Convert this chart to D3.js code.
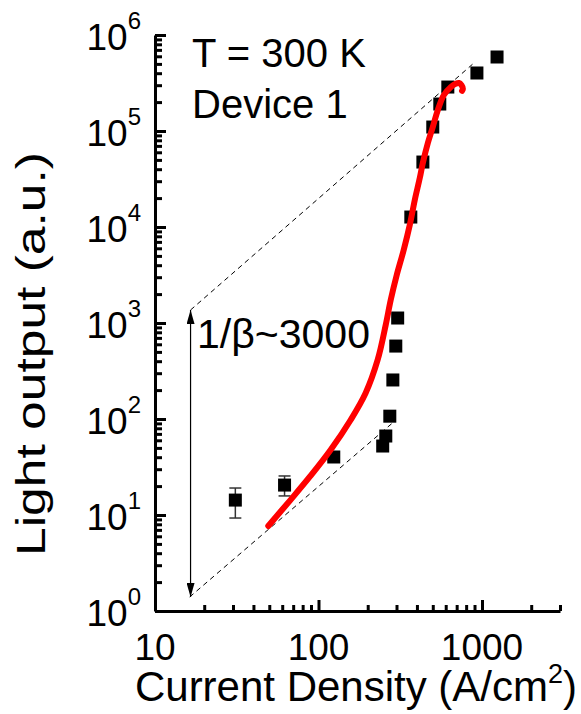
<!DOCTYPE html>
<html>
<head>
<meta charset="utf-8">
<script src="https://cdn.jsdelivr.net/npm/d3@7"></script>
<style>
  body { margin: 0; background: #fff; }
  text { font-family: "Liberation Sans", Arial, sans-serif; fill: #000; }
</style>
</head>
<body>
<div class="chart"></div>
<script>
// measured points (current density, light output)
let pointX = [31, 62, 124, 247, 258, 273, 285, 297, 305, 367, 435, 500, 552, 618, 931, 1236];
let pointY = [14.3, 20.5, 40.2, 52.3, 66.5, 107, 255, 575, 1127, 12700, 47500, 110000, 191000, 287000, 402000, 590000];
// error bars for the low current points
let errX = [31, 62, 124];
let errLow = [9.3, 15.8, 37];
let errHigh = [19.1, 25.5, 43];

// red curve
let curveX = [49.3, 67.3, 89.3, 118.5, 157.2, 194.3, 230, 257.7, 276.6, 301, 332, 361.6, 388, 416.5, 434.6, 466.5, 500, 537, 584.6, 645.6, 690, 722.6, 750, 764, 755];
let curveY = [7.68, 14.3, 25.5, 47.5, 97.6, 186.6, 412, 953, 1737, 3162, 5754, 10490, 19100, 32400, 46400, 75000, 110000, 165500, 237000, 287000, 310000, 316000, 300000, 275000, 262000];

// dashed guide lines and the arrow
let upperLine = [[16.5, 1366], [893, 511000]];
let lowerLine = [[16.3, 1.4], [288, 93]];
let arrowX = 16.5;
let arrowY = [1.4, 1366];

let xTicks = [10, 100, 1000];
let xTickLabels = ["10", "100", "1000"];
let yTicks = [1, 10, 100, 1000, 10000, 100000, 1000000];
let yTickExp = ["0", "1", "2", "3", "4", "5", "6"];

let width = 581;
let height = 714;

let svg = d3
  .select(".chart")
  .append("svg")
  .attr("width", width)
  .attr("height", height);

let xScale = d3.scaleLog().domain([10, 3000]).range([155, 560]);
let yScale = d3.scaleLog().domain([1, 1e6]).range([611, 35]);

// minor tick values
let xMinor = [];
[10, 100, 1000].forEach((d) => {
  for (let k = 2; k <= 9; k++) if (d * k <= 3000) xMinor.push(d * k);
});
let yMinor = [];
yTicks.slice(0, 6).forEach((d) => {
  for (let k = 2; k <= 9; k++) yMinor.push(d * k);
});

// defs: arrow heads
let defs = svg.append("defs");
defs
  .append("marker")
  .attr("id", "head")
  .attr("viewBox", "0 0 14 8")
  .attr("refX", 14)
  .attr("refY", 4)
  .attr("markerWidth", 14)
  .attr("markerHeight", 8)
  .attr("markerUnits", "userSpaceOnUse")
  .attr("orient", "auto-start-reverse")
  .append("path")
  .attr("d", "M0,0 L14,4 L0,8 Z")
  .attr("fill", "#000");

// axes
let xAxisG = svg.append("g").attr("transform", `translate(0, ${yScale(1)})`);
xAxisG.call(
  d3.axisBottom(xScale).tickValues(xMinor).tickSizeInner(-6).tickSizeOuter(0).tickFormat("")
);
xAxisG
  .append("g")
  .call(d3.axisBottom(xScale).tickValues(xTicks).tickSizeInner(-11).tickSizeOuter(0).tickFormat(""))
  .select(".domain")
  .remove();

let yAxisG = svg.append("g").attr("transform", `translate(${xScale(10)}, 0)`);
yAxisG.call(
  d3.axisLeft(yScale).tickValues(yMinor).tickSizeInner(-7).tickSizeOuter(0).tickFormat("")
);
yAxisG
  .append("g")
  .call(d3.axisLeft(yScale).tickValues(yTicks).tickSizeInner(-11).tickSizeOuter(0).tickFormat(""))
  .select(".domain")
  .remove();

svg.selectAll(".domain").attr("stroke", "#000").attr("stroke-width", 3);
svg.selectAll(".tick line").attr("stroke", "#000").attr("stroke-width", 3);

// x tick labels
svg
  .selectAll(".xlab")
  .data(xTicks)
  .enter()
  .append("text")
  .attr("x", (d) => xScale(d))
  .attr("y", 660)
  .attr("text-anchor", "middle")
  .style("font-size", "37px")
  .text((d, i) => xTickLabels[i]);

// y tick labels 10^n
let yLab = svg
  .selectAll(".ylab")
  .data(yTicks)
  .enter()
  .append("text")
  .attr("x", 141)
  .attr("y", (d) => yScale(d) + 15)
  .attr("text-anchor", "end")
  .style("font-size", "37px");
yLab.append("tspan").text("10");
yLab
  .append("tspan")
  .attr("dy", -21)
  .style("font-size", "24px")
  .text((d, i) => yTickExp[i]);

// axis titles
let xTitle = svg
  .append("text")
  .attr("x", 356)
  .attr("y", 701)
  .attr("text-anchor", "middle")
  .style("font-size", "42px");
xTitle.append("tspan").text("Current Density (A/cm");
xTitle.append("tspan").attr("dy", -18).style("font-size", "27px").text("2");
xTitle.append("tspan").attr("dy", 18).text(")");

// y title is stretched along the axis in the reference
svg
  .append("text")
  .attr("transform", "translate(45, 354) rotate(-90)")
  .attr("text-anchor", "middle")
  .attr("textLength", 404)
  .attr("lengthAdjust", "spacingAndGlyphs")
  .style("font-size", "41px")
  .text("Light output (a.u.)");

// annotations
svg.append("text").attr("x", 192).attr("y", 67).style("font-size", "40px").text("T = 300 K");
svg.append("text").attr("x", 192).attr("y", 118).style("font-size", "40px").text("Device 1");
svg.append("text").attr("x", 197).attr("y", 348).style("font-size", "41px").text("1/β~3000");

// dashed guide lines
let line = d3
  .line()
  .x((d) => xScale(d[0]))
  .y((d) => yScale(d[1]));

[upperLine, lowerLine].forEach((l) => {
  svg
    .append("path")
    .attr("d", line(l))
    .attr("fill", "none")
    .attr("stroke", "#000")
    .attr("stroke-width", 1)
    .attr("stroke-dasharray", "5,4");
});

// double arrow
svg
  .append("line")
  .attr("x1", xScale(arrowX))
  .attr("x2", xScale(arrowX))
  .attr("y1", yScale(arrowY[0]))
  .attr("y2", yScale(arrowY[1]))
  .attr("stroke", "#000")
  .attr("stroke-width", 1.2)
  .attr("marker-start", "url(#head)")
  .attr("marker-end", "url(#head)");

// error bars
errX.forEach((x, i) => {
  let cx = xScale(x);
  let g = svg.append("g").attr("stroke", "#333").attr("stroke-width", 1.5);
  g.append("line").attr("x1", cx).attr("x2", cx).attr("y1", yScale(errLow[i])).attr("y2", yScale(errHigh[i]));
  g.append("line").attr("x1", cx - 6).attr("x2", cx + 6).attr("y1", yScale(errLow[i])).attr("y2", yScale(errLow[i]));
  g.append("line").attr("x1", cx - 6).attr("x2", cx + 6).attr("y1", yScale(errHigh[i])).attr("y2", yScale(errHigh[i]));
});

// squares
svg
  .selectAll(".pt")
  .data(pointX)
  .enter()
  .append("rect")
  .attr("x", (d) => xScale(d) - 6.5)
  .attr("y", (d, i) => yScale(pointY[i]) - 6.5)
  .attr("width", 13)
  .attr("height", 13)
  .attr("fill", "#000");

// red curve
svg
  .append("path")
  .datum(curveX.map((d, i) => [d, curveY[i]]))
  .attr("d", d3.line().curve(d3.curveCatmullRom).x((d) => xScale(d[0])).y((d) => yScale(d[1])))
  .attr("fill", "none")
  .attr("stroke", "#ff0000")
  .attr("stroke-width", 6)
  .attr("stroke-linecap", "round")
  .attr("stroke-linejoin", "round");
</script>
</body>
</html>
